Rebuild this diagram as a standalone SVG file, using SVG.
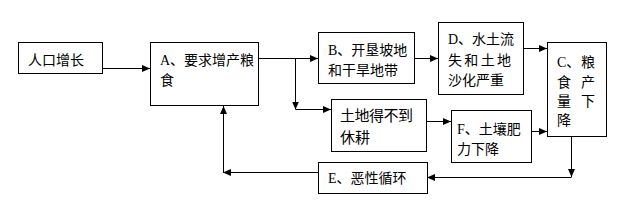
<svg xmlns="http://www.w3.org/2000/svg" width="618" height="210" viewBox="0 0 618 210">
<style>
.box{fill:#fff;stroke:#000;stroke-width:1}
.t{font-family:"Liberation Serif","Noto Sans CJK SC",serif;font-size:14px;fill:#000}
.c{stroke:#000;stroke-width:1;fill:none}
</style>
<defs>
<marker id="ah" viewBox="0 0 8 8" markerWidth="8" markerHeight="8" refX="8" refY="4" orient="auto" markerUnits="userSpaceOnUse">
<path d="M0,0.5 L8,4 L0,7.5 z" fill="#000"/>
</marker>
</defs>
<rect width="618" height="210" fill="#fff"/>
<g id="connectors">
<line class="c" x1="102.5" y1="68.5" x2="150" y2="68.5" marker-end="url(#ah)"/>
<line class="c" x1="258" y1="58.5" x2="318" y2="58.5" marker-end="url(#ah)"/>
<line class="c" x1="295.5" y1="58.5" x2="295.5" y2="109.5" marker-end="url(#ah)"/>
<line class="c" x1="295.5" y1="109.5" x2="331" y2="109.5" marker-end="url(#ah)"/>
<line class="c" x1="414" y1="58.5" x2="438" y2="58.5" marker-end="url(#ah)"/>
<line class="c" x1="523" y1="48.5" x2="547" y2="48.5" marker-end="url(#ah)"/>
<line class="c" x1="426" y1="121.5" x2="451" y2="121.5" marker-end="url(#ah)"/>
<line class="c" x1="522" y1="131.5" x2="547" y2="131.5" marker-end="url(#ah)" stroke="#333" stroke-width="1.5"/>
<line class="c" x1="571.5" y1="136" x2="571.5" y2="177" marker-end="url(#ah)"/>
<line class="c" x1="571.5" y1="177.5" x2="427" y2="177.5" marker-end="url(#ah)"/>
<line class="c" x1="318" y1="172.5" x2="223" y2="172.5" marker-end="url(#ah)"/>
<line class="c" x1="223.5" y1="172.5" x2="223.5" y2="106" marker-end="url(#ah)"/>
</g>
<g id="n_pop">
<rect class="box" x="18.5" y="42.5" width="84" height="31"/>
<text class="t" x="28" y="65">人口增长</text>
</g>
<g id="n_A">
<rect class="box" x="150.5" y="42.5" width="108" height="63"/>
<text class="t" x="160" y="65">A、要求增产粮</text>
<text class="t" x="160" y="85">食</text>
</g>
<g id="n_B">
<rect class="box" x="318.5" y="32.5" width="96" height="51"/>
<text class="t" x="328" y="55">B、开垦坡地</text>
<text class="t" x="328" y="75">和干旱地带</text>
</g>
<g id="n_D">
<rect class="box" x="438.5" y="22.5" width="85" height="72"/>
<text class="t" x="448" y="44">D、水土流</text>
<text class="t" x="448" y="65" textLength="63" lengthAdjust="spacing">失和土地</text>
<text class="t" x="448" y="85">沙化严重</text>
</g>
<g id="n_C">
<rect class="box" x="547.5" y="42.5" width="59" height="94"/>
<text class="t" x="557" y="67">C、</text>
<text class="t" x="581" y="67">粮</text>
<text class="t" x="557" y="87">食</text>
<text class="t" x="581" y="87">产</text>
<text class="t" x="557" y="106">量</text>
<text class="t" x="581" y="106">下</text>
<text class="t" x="557" y="125">降</text>
</g>
<g id="n_land">
<rect class="box" x="331.5" y="99.5" width="95" height="52"/>
<text class="t" x="340" y="121" style="font-size:15px" textLength="73" lengthAdjust="spacing">土地得不到</text>
<text class="t" x="340" y="143" style="font-size:15px">休耕</text>
</g>
<g id="n_F">
<rect class="box" x="451.5" y="110.5" width="80" height="52"/>
<text class="t" x="457" y="134">F、土壤肥</text>
<text class="t" x="457" y="154">力下降</text>
</g>
<g id="n_E">
<rect class="box" x="318.5" y="162.5" width="109" height="31"/>
<text class="t" x="328" y="183">E、恶性循环</text>
</g>
</svg>
